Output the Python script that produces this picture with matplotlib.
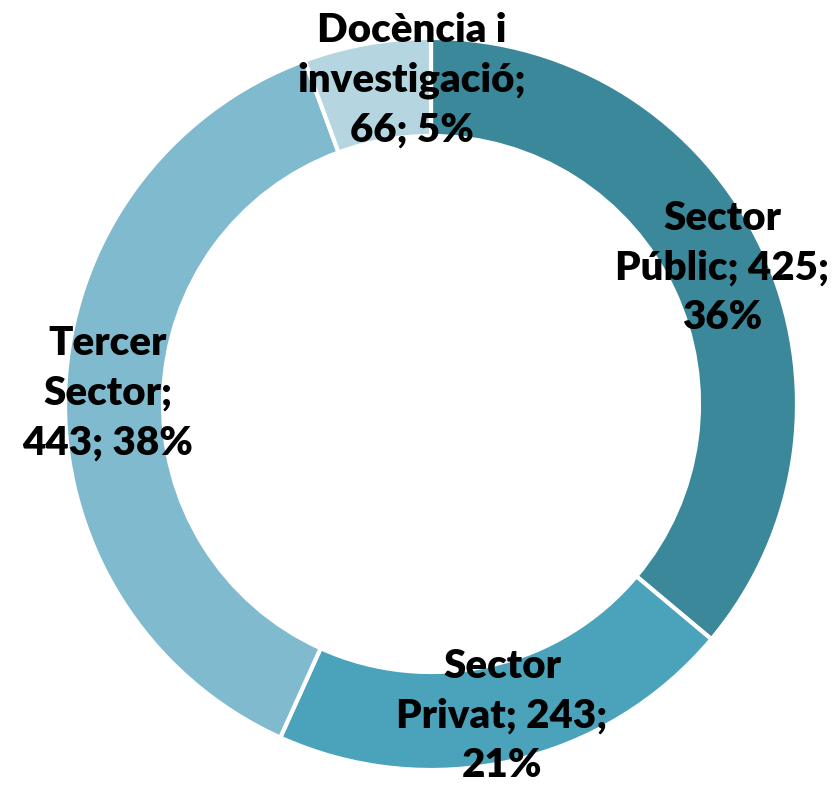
import matplotlib.pyplot as plt

# data
sectors = ['Sector Públic', 'Sector Privat', 'Tercer Sector', 'Docència i investigació']
counts = [425, 243, 443, 66]
pct_labels = ['36%', '21%', '38%', '5%']
label_texts = ['Sector\nPúblic; 425;\n36%',
               'Sector\nPrivat; 243;\n21%',
               'Tercer\nSector;\n443; 38%',
               'Docència i\ninvestigació;\n66; 5%']
colors = ['#3b889b', '#4aa3ba', '#7fbace', '#b5d6e1']

W, H = 840, 793
fig = plt.figure(figsize=(W / 100, H / 100), dpi=100)
ax = fig.add_axes([0, 0, 1, 1])

cx, cy = 431, H - 404
R = 366
ring = 98

ax.pie(counts, colors=colors, startangle=90, counterclock=False,
       center=(cx, cy), radius=R, frame=True,
       wedgeprops=dict(width=ring, edgecolor='white', linewidth=3))
ax.set_xlim(0, W)
ax.set_ylim(0, H)
ax.set_aspect('equal')
ax.axis('off')

# label centres (pixels from top-left)
label_pos = [(722, 268), (502, 716), (108, 393), (412, 80)]
for txt, (px, py) in zip(label_texts, label_pos):
    ax.text(px, H - py, txt, ha='center', va='center', fontsize=29,
            fontweight='heavy', family='Lato', linespacing=1.42, color='black')

plt.savefig('out.png', dpi=100)
